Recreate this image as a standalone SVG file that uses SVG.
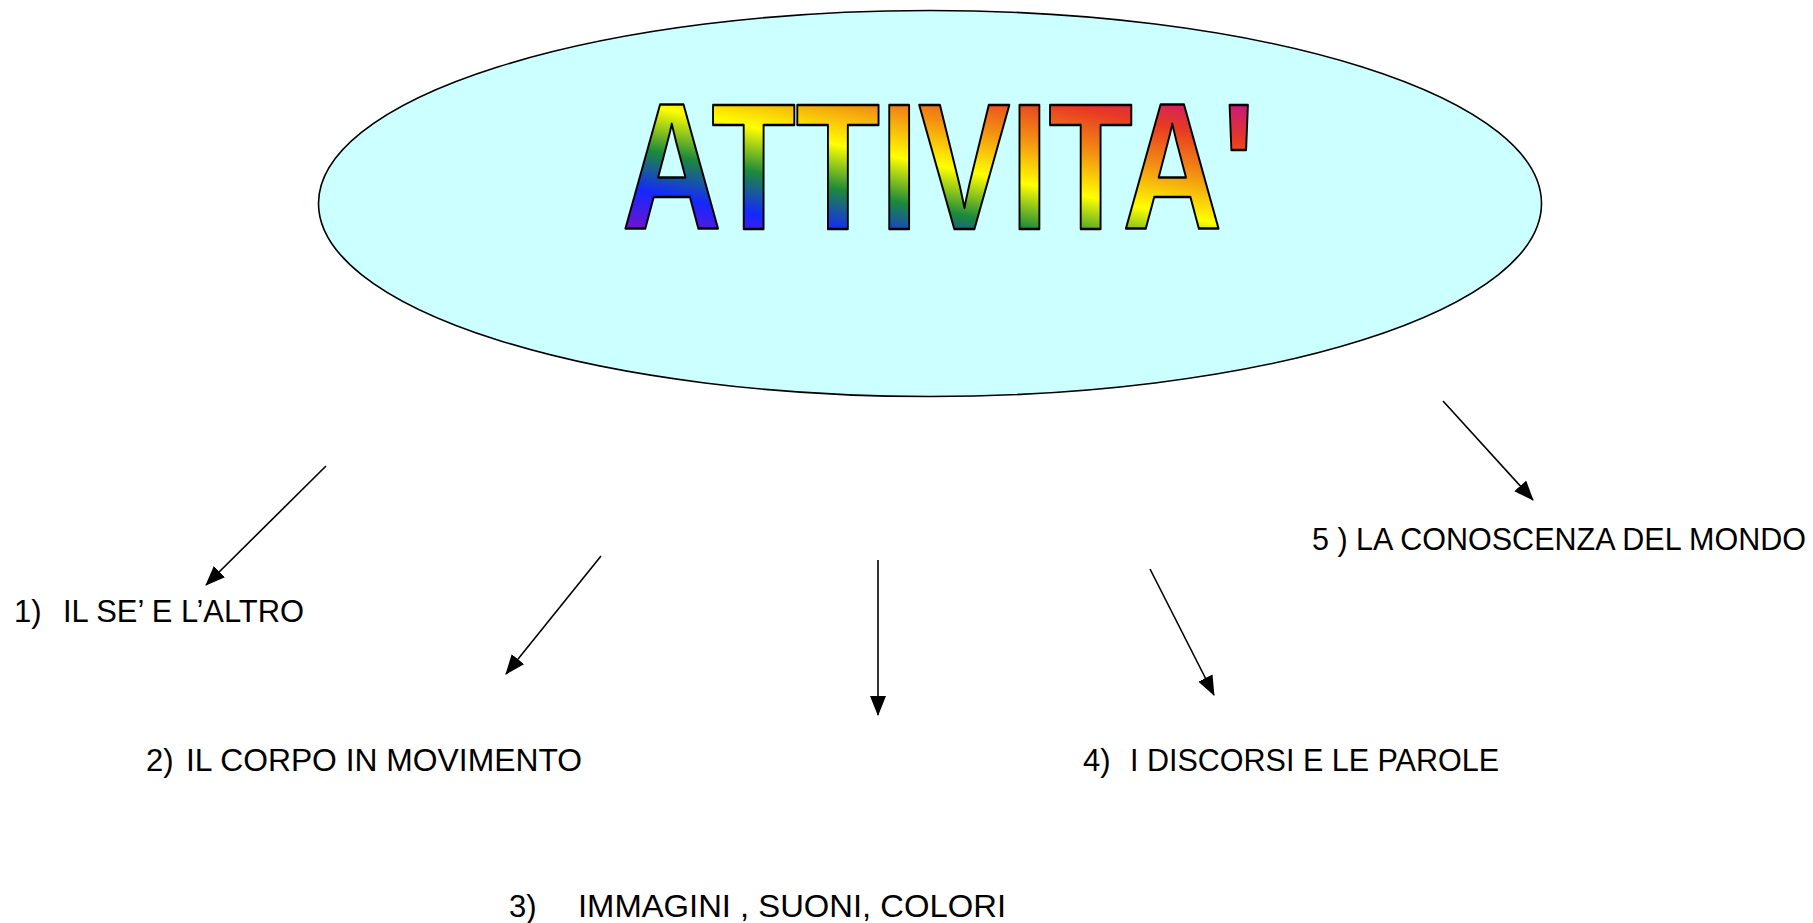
<svg xmlns="http://www.w3.org/2000/svg" width="1813" height="923" viewBox="0 0 1813 923">
<style>
.lbl{font-family:"Liberation Sans",Arial,sans-serif;font-size:31px;fill:#000;}
.con{stroke:#000;stroke-width:1.6;fill:none;marker-end:url(#ah);}
.title{font-family:"Liberation Sans",Arial,sans-serif;font-weight:bold;font-size:180px;fill:url(#rainbow);stroke:#000;stroke-width:2.5;stroke-linejoin:round;}
</style>
<defs>
<marker id="ah" markerUnits="userSpaceOnUse" markerWidth="22" markerHeight="16" refX="19" refY="8" orient="auto">
<path d="M0,0 L20,8 L0,16 Z" fill="#000"/>
</marker>
<linearGradient id="rainbow" gradientUnits="userSpaceOnUse" x1="622" y1="231" x2="674" y2="-20">
<stop offset="0" stop-color="#7a10c8"/>
<stop offset="0.17" stop-color="#1428ff"/>
<stop offset="0.33" stop-color="#1c8a3a"/>
<stop offset="0.5" stop-color="#ffff00"/>
<stop offset="0.67" stop-color="#f39012"/>
<stop offset="0.83" stop-color="#e83a22"/>
<stop offset="1" stop-color="#c4108c"/>
</linearGradient>
</defs>
<rect width="1813" height="923" fill="#fff"/>
<g id="center">
<ellipse cx="930" cy="203.5" rx="611.5" ry="193" fill="#ccffff" stroke="#000" stroke-width="1.6"/>
<text class="title" x="622" y="229" textLength="633" lengthAdjust="spacingAndGlyphs">ATTIVITA'</text>
</g>
<g id="connectors">
<line class="con" x1="326" y1="466" x2="206" y2="585"/>
<line class="con" x1="601" y1="556" x2="506" y2="674"/>
<line class="con" x1="878" y1="560" x2="878" y2="715"/>
<line class="con" x1="1150" y1="569" x2="1214" y2="695"/>
<line class="con" x1="1443" y1="401" x2="1533" y2="500"/>
</g>
<g id="n1"><text class="lbl" y="622"><tspan x="14">1)</tspan><tspan x="63" textLength="241" lengthAdjust="spacingAndGlyphs">IL SE’ E L’ALTRO</tspan></text></g>
<g id="n2"><text class="lbl" y="771"><tspan x="146">2)</tspan><tspan x="186" textLength="396" lengthAdjust="spacingAndGlyphs">IL CORPO IN MOVIMENTO</tspan></text></g>
<g id="n3"><text class="lbl" y="917"><tspan x="509">3)</tspan><tspan x="578" textLength="428" lengthAdjust="spacingAndGlyphs">IMMAGINI , SUONI, COLORI</tspan></text></g>
<g id="n4"><text class="lbl" y="771"><tspan x="1083">4)</tspan><tspan x="1130" textLength="369" lengthAdjust="spacingAndGlyphs">I DISCORSI E LE PAROLE</tspan></text></g>
<g id="n5"><text class="lbl" x="1312" y="550" textLength="494" lengthAdjust="spacingAndGlyphs">5 ) LA CONOSCENZA DEL MONDO</text></g>
</svg>
